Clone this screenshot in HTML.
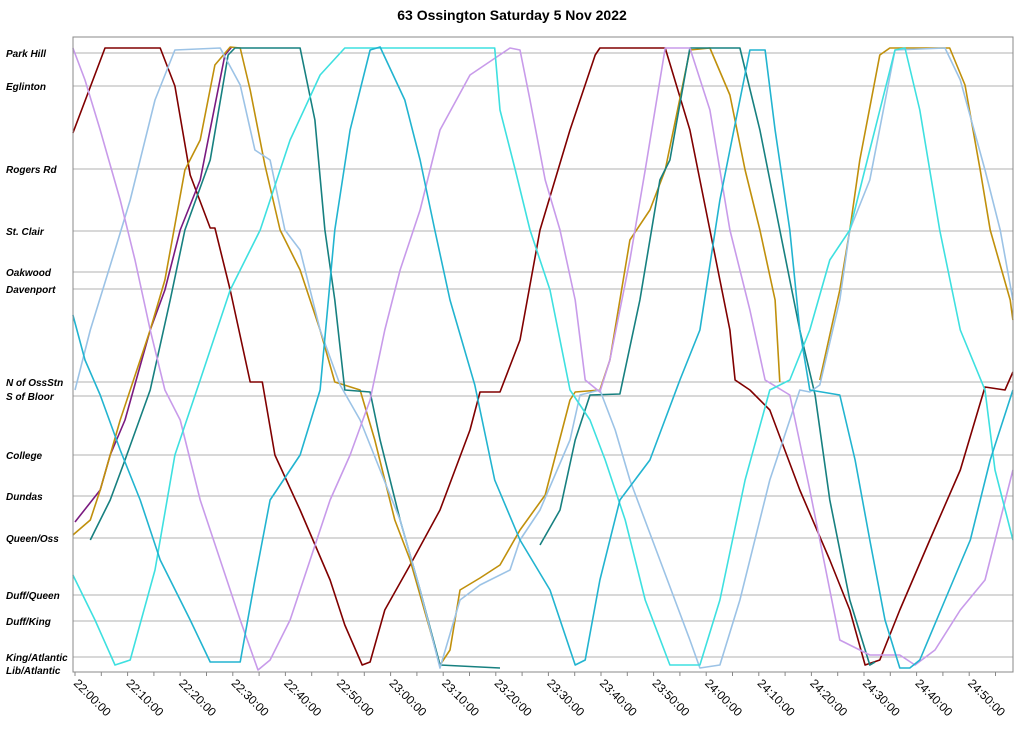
<!DOCTYPE html>
<html><head><meta charset="utf-8"><style>
body{margin:0;background:#fff;}
svg text{font-family:"Liberation Sans",sans-serif;}
</style></head><body>
<svg id="chart" width="1024" height="731" xmlns="http://www.w3.org/2000/svg">
<text x="512" y="20" text-anchor="middle" font-size="14" font-weight="bold">63 Ossington Saturday 5 Nov 2022</text>
<g id="grid"></g>
<g id="ylabels"></g>
<g id="series"></g>
<rect x="73" y="37" width="940" height="635" fill="none" stroke="#888" stroke-width="1"/>
<g id="xaxis"></g>
</svg>
<script>
const stationNames=["Park Hill","Eglinton","Rogers Rd","St. Clair","Oakwood","Davenport","N of OssStn","S of Bloor","College","Dundas","Queen/Oss","Duff/Queen","Duff/King","King/Atlantic","Lib/Atlantic"];
const stationPos=[617,584,501,439,398,381,288,274,215,174,132,75,49,13,0];
const tickMinutes=[0,10,20,30,40,50,60,70,80,90,100,110,120,130,140,150,160,170];
const tickLabels=["22:00:00","22:10:00","22:20:00","22:30:00","22:40:00","22:50:00","23:00:00","23:10:00","23:20:00","23:30:00","23:40:00","23:50:00","24:00:00","24:10:00","24:20:00","24:30:00","24:40:00","24:50:00"];
const red=[[-0.4,537],[5.7,622],[16.2,622],[19,584],[21.9,495],[25.7,442],[26.6,442],[29.5,380],[33.3,288],[35.6,288],[38,215],[42.8,160],[48.5,90],[51.3,45],[54.6,5],[56.1,8],[58.9,60],[63.7,105],[69.4,160],[75.1,240],[77,278],[80.8,278],[84.6,330],[88.4,440],[94.1,540],[98.9,615],[99.8,622],[112.2,622],[116.9,540],[120.7,440],[124.5,340],[125.5,290],[128.3,280],[132.1,260],[137.8,180],[143.5,110],[147.3,60],[150.2,5],[153,10],[156.8,60],[162.5,130],[168.3,200],[173,283],[176.8,280],[178.3,298]];
const purple=[[0,148],[4.8,180],[6.7,215],[9.5,250],[14.3,340],[17.1,380],[20,440],[23.8,490],[28.5,615],[29.8,623]];
const gold1=[[-0.4,135],[2.9,150],[4.8,180],[8.6,250],[14.3,340],[17.1,390],[20.9,500],[23.8,530],[26.6,605],[29.5,623],[31.4,622],[33.3,580],[36.1,505],[39,440],[42.8,400],[46.6,340],[49.4,288],[54.2,280],[57,230],[60.8,150],[63.7,110],[69.4,5],[71.3,20],[73.2,80],[77,92],[80.8,105],[84.6,140],[89.4,175],[94.1,270],[95.1,278],[99.8,280],[101.7,310],[105.5,430],[109.3,460],[112.2,500],[116.9,620],[120.7,622],[124.5,575],[127.4,500],[130.2,440],[133.1,370],[134,288]];
const gold2=[[141.6,290],[145.4,380],[147.3,440],[149.2,510],[153,615],[154.9,622],[166.3,622],[169.2,585],[172.1,500],[174,440],[177.8,370],[178.3,350]];
const teal1=[[2.9,130],[6.7,170],[9.5,210],[14.3,280],[18.1,370],[20.9,440],[25.7,510],[29.1,615],[30.4,622],[42.8,622],[45.6,550],[47.5,440],[49.4,370],[51.3,280],[56.1,278],[58,230],[61.8,150],[65.6,80],[69.4,5],[80.8,2]];
const teal2=[[88.4,125],[92.2,160],[95.1,230],[97.9,275],[103.6,276],[107.4,370],[111.2,490],[113.1,510],[116.9,622],[126.4,622],[130.2,540],[134,440],[137.8,340],[140.7,275],[143.5,170],[147.3,70],[151.1,5],[152.1,8]];
const lightBlue=[[0,280],[2.9,340],[7.6,420],[10.5,470],[15.2,570],[19,620],[27.6,622],[31.4,585],[34.2,520],[37.1,510],[39.9,440],[42.8,420],[46.6,340],[50.4,285],[54.2,250],[58,200],[61.8,150],[65.6,80],[69.4,2],[73.2,70],[77,85],[82.7,100],[84.6,130],[88.4,160],[94.1,230],[96,275],[99.8,280],[102.7,240],[105.5,190],[111.2,110],[116.9,30],[118.8,2],[122.6,5],[126.4,70],[132.1,190],[137.8,280],[139.7,278],[141.6,285],[145.4,370],[147.3,440],[151.1,490],[155.9,620],[165.4,622],[168.3,590],[173,500],[175.9,440],[178.3,370]];
const lavender=[[-0.4,622],[1.9,590],[4.8,540],[8.6,470],[11.4,410],[14.3,340],[17.1,280],[20,250],[23.8,170],[27.6,110],[31.4,50],[34.8,0],[37.1,10],[40.9,50],[44.7,110],[48.5,170],[52.3,215],[56.1,270],[58.9,340],[61.8,400],[65.6,460],[69.4,540],[75.1,595],[82.7,622],[84.6,620],[86.5,570],[89.4,490],[92.2,440],[95.1,370],[97,290],[99.8,278],[101.7,310],[105.5,410],[108.4,500],[112.2,622],[116.9,622],[120.7,560],[124.5,440],[128.3,360],[131.2,290],[135.9,275],[139.7,180],[143.5,80],[145.4,30],[151.1,15],[156.8,15],[159.7,5],[163.5,20],[168.3,60],[173,90],[178.3,200]];
const brightCyan=[[-0.4,95],[3.8,50],[7.6,5],[10.5,10],[15.2,100],[19,215],[23.8,290],[29.5,380],[35.2,440],[40.9,530],[46.6,595],[51.3,622],[79.8,622],[80.8,560],[83.7,500],[86.5,440],[90.3,380],[94.1,280],[97.9,250],[100.8,210],[104.6,150],[108.4,70],[113.1,5],[118.8,5],[122.6,70],[127.4,190],[132.1,280],[135.9,290],[139.7,340],[143.5,410],[147.3,440],[151.1,520],[155.9,620],[157.8,622],[160.6,560],[164.4,440],[168.3,340],[173,280],[174.9,200],[178.3,130]];
const medCyan=[[-0.4,355],[1.9,310],[4.8,275],[8.6,220],[12.4,170],[16.2,110],[21.9,50],[25.7,8],[31.4,8],[34.2,90],[37.1,170],[42.8,215],[46.6,280],[49.4,440],[52.3,540],[56.1,620],[58,623],[62.7,570],[65.6,510],[68.4,440],[71.3,370],[76,285],[79.8,190],[84.6,130],[90.3,80],[95.1,5],[97,10],[99.8,90],[103.6,170],[109.3,210],[115,290],[118.8,340],[122.6,470],[128.3,620],[131.2,620],[133.1,540],[135.9,440],[137.8,340],[139.7,280],[145.4,275],[148.3,210],[151.1,130],[154,50],[156.8,2],[158.7,2],[160.6,10],[165.4,70],[170.2,130],[174,210],[178.3,280]];

const NS='http://www.w3.org/2000/svg';
function x(m){return 75+m*5.26;}
function y(p){return 670-p;}
const svg=document.getElementById('chart');
const grid=document.getElementById('grid'),yl=document.getElementById('ylabels'),xa=document.getElementById('xaxis'),sg=document.getElementById('series');
stationNames.forEach((n,i)=>{
  const yy=y(stationPos[i]);
  if(i<stationNames.length-1){
    const l=document.createElementNS(NS,'line');
    
    
    l.setAttribute('x1',73);l.setAttribute('x2',1013);l.setAttribute('y1',yy);l.setAttribute('y2',yy);
    l.setAttribute('stroke','#999');l.setAttribute('stroke-width','0.8');
    grid.appendChild(l);
  }
  const t=document.createElementNS(NS,'text');
  
  
  t.setAttribute('x',6);t.setAttribute('y',yy+4);
  t.setAttribute('font-size','10');t.setAttribute('font-weight','bold');t.setAttribute('font-style','italic');
  t.textContent=n;yl.appendChild(t);
});
for(let m=0;m<=175;m+=5){
  const l=document.createElementNS(NS,'line');
  
  
  l.setAttribute('x1',x(m));l.setAttribute('x2',x(m));l.setAttribute('y1',672);l.setAttribute('y2',676);
  l.setAttribute('stroke','#888');xa.appendChild(l);
}
tickMinutes.forEach((m,i)=>{
  const t=document.createElementNS(NS,'text');
  
  
  const tx=x(m)-2,ty=684;
  t.setAttribute('x',tx);t.setAttribute('y',ty);
  t.setAttribute('font-size','12');
  t.setAttribute('transform','rotate(45 '+tx+' '+ty+')');
  t.textContent=tickLabels[i];xa.appendChild(t);
});
const series=[[red,'#800000','red-bus'],[purple,'#7a1a80','purple-bus'],[gold1,'#c0900c','gold-bus-1'],[gold2,'#c0900c','gold-bus-2'],[teal1,'#178080','teal-bus-1'],[teal2,'#178080','teal-bus-2'],[lightBlue,'#9cc3e6','light-blue-bus'],[lavender,'#c89bea','lavender-bus'],[brightCyan,'#3ee0e0','cyan-bus'],[medCyan,'#22b4d0','blue-cyan-bus']];
series.forEach(s=>{
  const p=document.createElementNS(NS,'polyline');
  
  
  p.setAttribute('points',s[0].map(d=>x(d[0]).toFixed(1)+','+y(d[1]).toFixed(1)).join(' '));
  p.setAttribute('fill','none');p.setAttribute('stroke',s[1]);p.setAttribute('stroke-width','1.6');p.setAttribute('stroke-linejoin','round');
  sg.appendChild(p);
});
</script>
</body></html>
